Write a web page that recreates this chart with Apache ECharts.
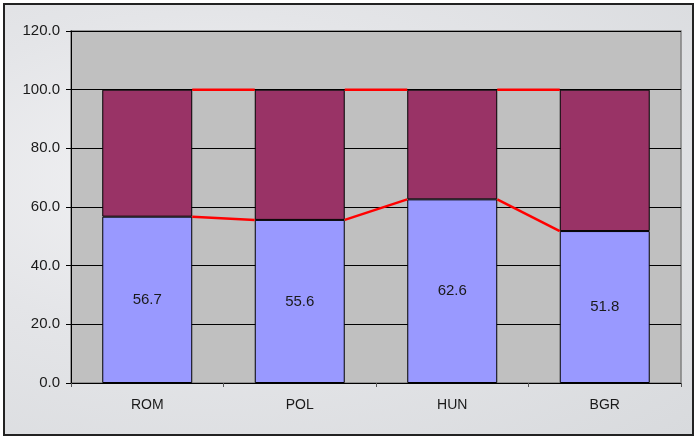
<!DOCTYPE html>
<html><head><meta charset="utf-8">
<script src="https://cdn.jsdelivr.net/npm/echarts@6/dist/echarts.min.js"></script>
<style>
html,body{margin:0;padding:0;}
#wrap{position:absolute;left:3px;top:3px;width:687px;height:429px;border:2px solid #222;
 background:radial-gradient(ellipse at 30% 40%, #f3f3f5 0%, #e4e5e8 45%, #d8dadd 100%);}
#c{position:absolute;left:0;top:0;width:694px;height:436px;}
</style></head>
<body><div id="wrap"></div><div id="c"></div>
<script>
var categories = ['ROM','POL','HUN','BGR'];
var lowerValues = [56.7, 55.6, 62.6, 51.8];
var upperValues = [43.3, 44.4, 37.4, 48.2];
var yTicks = [0, 20, 40, 60, 80, 100, 120];

var chart = echarts.init(document.getElementById('c'));
var barGap = '41%';
var barFrac = 0.59;
var totals = lowerValues.map(function(v,i){return v+upperValues[i];});
var FONT = 'Liberation Sans, Arial, sans-serif';

function seriesLines(values){
  return {
    type:'custom', z:5, silent:true,
    renderItem:function(params, api){
      var i = api.value(0);
      if (i >= values.length-1) return;
      var catW = api.size([1,0])[0];
      var half = catW*barFrac/2;
      var p1 = api.coord([i, values[i]]);
      var p2 = api.coord([i+1, values[i+1]]);
      return {type:'line', shape:{x1:p1[0]+half,y1:p1[1],x2:p2[0]-half,y2:p2[1]},
        style:{stroke:'#FF0000', lineWidth:2.5}};
    },
    data: values.map(function(v,i){return [i,v];})
  };
}

chart.setOption({
  animation:false,
  grid:{left:71, right:13, top:31, bottom:53, show:true, backgroundColor:'#C0C0C0', borderColor:'#808080', borderWidth:1.5},
  xAxis:{type:'category', data:categories,
    axisLine:{lineStyle:{color:'#000', width:1}},
    axisTick:{show:true, alignWithLabel:false, length:4, lineStyle:{color:'#555'}},
    axisLabel:{color:'#1a1a1a', fontSize:14, fontFamily:FONT, margin:15}},
  yAxis:{type:'value', min:0, max:120, interval:20,
    axisLine:{show:true, lineStyle:{color:'#000', width:1}},
    axisTick:{show:true, length:5, lineStyle:{color:'#000'}},
    axisLabel:{color:'#1a1a1a', fontSize:15, fontFamily:FONT, margin:11,
      formatter:function(v){return v.toFixed(1);}},
    splitLine:{show:true, lineStyle:{color:'#000', width:1}}},
  series:[
    {type:'bar', stack:'a', data:lowerValues, barCategoryGap:barGap,
     itemStyle:{color:'#9999FF', borderColor:'#000', borderWidth:1},
     label:{show:true, position:'inside', color:'#1a1a1a', fontSize:15, fontFamily:FONT,
       formatter:function(p){return p.value.toFixed(1);}}},
    {type:'bar', stack:'a', data:upperValues, barCategoryGap:barGap,
     itemStyle:{color:'#993366', borderColor:'#000', borderWidth:1}},
    seriesLines(lowerValues),
    seriesLines(totals)
  ]
});
</script></body></html>
